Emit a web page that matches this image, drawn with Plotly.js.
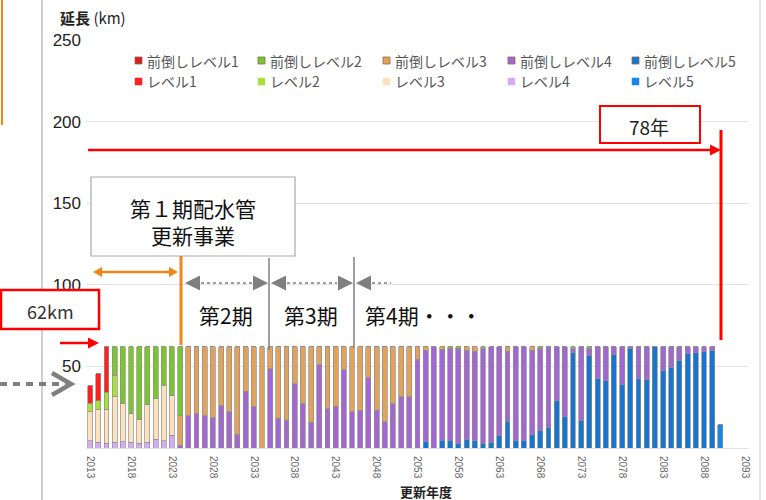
<!DOCTYPE html>
<html>
<head>
<meta charset="utf-8">
<script src="https://cdn.plot.ly/plotly-3.0.1.min.js"></script>
<style>html,body{margin:0;padding:0;background:#fff}</style>
</head>
<body>
<div id="chart" style="width:766px;height:500px"></div>
<script>
// Renewal years 2013 - 2090
const years = [
  2013,2014,2015,2016,2017,2018,2019,2020,2021,2022,
  2023,2024,2025,2026,2027,2028,2029,2030,2031,2032,
  2033,2034,2035,2036,2037,2038,2039,2040,2041,2042,
  2043,2044,2045,2046,2047,2048,2049,2050,2051,2052,
  2053,2054,2055,2056,2057,2058,2059,2060,2061,2062,
  2063,2064,2065,2066,2067,2068,2069,2070,2071,2072,
  2073,2074,2075,2076,2077,2078,2079,2080,2081,2082,
  2083,2084,2085,2086,2087,2088,2089,2090
];

// Length renewed per year (km), by level
const level1 = [10.8,16.7,27.9,0,0,0,0,0,0,0, 0,0,0,0,0,0,0,0,0,0, 0,0,0,0,0,0,0,0,0,0, 0,0,0,0,0,0,0,0,0,0, 0,0,0,0,0,0,0,0,0,0, 0,0,0,0,0,0,0,0,0,0, 0,0,0,0,0,0,0,0,0,0, 0,0,0,0,0,0,0,0];
const level2 = [5.1,5.1,10.6,12.8,0,0,0,0,0,0, 0,0,0,0,0,0,0,0,0,0, 0,0,0,0,0,0,0,0,0,0, 0,0,0,0,0,0,0,0,0,0, 0,0,0,0,0,0,0,0,0,0, 0,0,0,0,0,0,0,0,0,0, 0,0,0,0,0,0,0,0,0,0, 0,0,0,0,0,0,0,0];
const level3 = [17.9,20.3,20.9,28.3,23.4,17.7,14.8,23.2,24.8,33.7, 24.4,0,0,0,0,0,0,0,0,0, 0,0,0,0,0,0,0,0,0,0, 0,0,0,0,0,0,0,0,0,0, 0,0,0,0,0,0,0,0,0,0, 0,0,0,0,0,0,0,0,0,0, 0,0,0,0,0,0,0,0,0,0, 0,0,0,0,0,0,0,0];
const level4 = [4.3,3.5,2.8,3.5,3.9,3.5,2.8,3.5,5.5,4.3, 7.9,0,0,0,0,0,0,0,0,0, 0,0,0,0,0,0,0,0,0,0, 0,0,0,0,0,0,0,0,0,0, 0,0,0,0,0,0,0,0,0,0, 0,0,0,0,0,0,0,0,0,0, 0,0,0,0,0,0,0,0,0,0, 0,0,0,0,0,0,0,0];
const level5 = [0,0,0,0,0,0,0,0,0,0, 0,0,0,0,0,0,0,0,0,0, 0,0,0,0,0,0,0,0,0,0, 0,0,0,0,0,0,0,0,0,0, 0,0,0,0,0,0,0,0,0,0, 0,0,0,0,0,0,0,0,0,0, 0,0,0,0,0,0,0,0,0,0, 0,0,0,0,0,0,0,14.4];

// Brought-forward renewals (km)
const early1 = [0,0,0,0,0,0,0,0,0,0, 0,0,0,0,0,0,0,0,0,0, 0,0,0,0,0,0,0,0,0,0, 0,0,0,0,0,0,0,0,0,0, 0,0,0,0,0,0,0,0,0,0, 0,0,0,0,0,0,0,0,0,0, 0,0,0,0,0,0,0,0,0,0, 0,0,0,0,0,0,0,0];
const early2 = [0,0,0,17.4,34.7,40.8,44.4,35.3,31.7,24.0, 29.7,41.9,0,0,0,0,0,0,0,0, 0,0,0,0,0,0,0,0,0,0, 0,0,0,0,0,0,0,0,0,0, 0,0,0,0,1.0,1.0,0,0,1.0,0, 0,0,0,0,0,1.0,0,0,0,1.0, 0,1.0,0,0,0,0,0,0,0,0, 0,0,0,0,0,0,0,0];
const early3 = [0,0,0,0,0,0,0,0,0,0, 0,18.3,42.3,40.9,42.3,43.5,36.2,39.8,53.5,27.2, 36.8,62.0,13.4,43.9,44.9,22.6,34.8,46.3,11.0,37.8, 36.4,14.0,39.8,38.8,19.1,38.8,45.9,34.8,30.7,30.7, 7.7,2.0,0,1.6,0,0,2.0,2.6,0,0, 0,2.6,0,0,2.0,0,0,0,0,0, 0,0,0,0,0,0,0,0,0,0, 0,0,0,0,0,0,0,0];
const early4 = [0,0,0,0,0,0,0,0,0,0, 0,1.8,19.7,21.1,19.7,18.5,25.8,22.2,8.5,34.8, 25.2,0,48.6,18.1,17.1,39.4,27.2,15.7,51.0,24.2, 25.6,48.0,22.2,23.2,42.9,23.2,16.1,27.2,31.3,31.3, 54.3,56.1,62.0,56.1,56.1,58.2,54.5,55.1,58.2,58.5, 54.1,42.9,57.7,57.1,51.7,50.0,49.6,33.1,42.9,2.7, 44.9,4.3,19.5,20.9,4.7,23.0,1.0,19.5,20.1,0, 14.4,12.4,8.3,4.3,3.7,2.9,2.2,0];
const early5 = [0,0,0,0,0,0,0,0,0,0, 0,0,0,0,0,0,0,0,0,0, 0,0,0,0,0,0,0,0,0,0, 0,0,0,0,0,0,0,0,0,0, 0,3.9,0,4.3,4.9,2.8,5.5,4.3,2.8,3.5, 7.9,16.5,4.3,4.9,8.3,11.0,12.4,28.9,19.1,58.3, 17.1,56.7,42.5,41.1,57.3,39.0,61.0,42.5,41.9,62.0, 47.6,49.6,53.7,57.7,58.3,59.1,59.8,0];

const earlyNames = ['前倒しレベル1','前倒しレベル2','前倒しレベル3','前倒しレベル4','前倒しレベル5'];
const levelNames = ['レベル1','レベル2','レベル3','レベル4','レベル5'];
const earlyColors = ['#dc1c1c','#7cc530','#e2a25c','#a367d2','#1675d0'];
const levelColors = ['#ff2020','#a9e03c','#fde1bc','#d3acf6','#1a88e2'];

// stacking order, bottom first
const stack = [
  {name: levelNames[4], y: level5, c: levelColors[4]},
  {name: levelNames[3], y: level4, c: levelColors[3]},
  {name: levelNames[2], y: level3, c: levelColors[2]},
  {name: levelNames[1], y: level2, c: levelColors[1]},
  {name: levelNames[0], y: level1, c: levelColors[0]},
  {name: earlyNames[4], y: early5, c: earlyColors[4]},
  {name: earlyNames[3], y: early4, c: earlyColors[3]},
  {name: earlyNames[2], y: early3, c: earlyColors[2]},
  {name: earlyNames[1], y: early2, c: earlyColors[1]},
  {name: earlyNames[0], y: early1, c: earlyColors[0]}
];

const traces = stack.map(s => ({
  type: 'bar', x: years, y: s.y, name: s.name, width: 0.6,
  marker: {color: s.c, line: {color: '#8e8e8e', width: 0.7}},
  showlegend: false, hoverinfo: 'x+y+name'
}));

// pixel helpers for the figure frame
const W = 766, H = 500, ML = 86, MR = 17, MT = 40, MB = 52;
const PW = W - ML - MR, PH = H - MT - MB;
const px = x => (x - ML) / PW;
const py = y => 1 - (y - MT) / PH;

function seg(x0, y0, x1, y1, color, width, dash) {
  return {type: 'line', xref: 'paper', yref: 'paper', x0: px(x0), y0: py(y0), x1: px(x1), y1: py(y1),
    line: {color: color, width: width, dash: dash || 'solid'}};
}
function box(x0, y0, x1, y1, color, width, fill) {
  return {type: 'rect', xref: 'paper', yref: 'paper', x0: px(x0), y0: py(y0), x1: px(x1), y1: py(y1),
    line: {color: color, width: width}, fillcolor: fill || 'rgba(0,0,0,0)'};
}
function head(tx, ty, dir, len, hw, color) {
  const bx = tx - dir * len;
  return {type: 'path', xref: 'paper', yref: 'paper',
    path: 'M' + px(tx) + ',' + py(ty) + ' L' + px(bx) + ',' + py(ty - hw) + ' L' + px(bx) + ',' + py(ty + hw) + ' Z',
    fillcolor: color, line: {color: color, width: 0}};
}
function label(x, y, t, size, color, anchor, extra) {
  return Object.assign({xref: 'paper', yref: 'paper', x: px(x), y: py(y), text: t, showarrow: false,
    xanchor: anchor || 'center', yanchor: 'middle',
    font: {family: '"Noto Sans CJK JP", "Noto Sans", sans-serif', size: size, color: color}}, extra || {});
}

const RED = '#ff0000', ORANGE = '#f2851a', GRAY = '#7f7f7f';
const shapes = [];
const annotations = [];

// outer frame lines
shapes.push(seg(42, 0, 42, 500, '#cfcfcf', 2));
shapes.push(seg(760, 0, 760, 500, '#dedede', 1.5));
shapes.push(seg(2, 0, 2, 125, ORANGE, 2));

// legend
const legX = [135, 258, 383, 508, 632];
for (let i = 0; i < 5; i++) {
  shapes.push(box(legX[i], 57, legX[i] + 7, 64, '#8a6a5a', 0.8, earlyColors[i]));
  annotations.push(label(legX[i] + 10, 60.5, earlyNames[i], 14, '#555', 'left'));
  shapes.push(box(legX[i], 78, legX[i] + 7, 85, levelColors[i], 0.5, levelColors[i]));
  annotations.push(label(legX[i] + 10, 81.5, levelNames[i], 14, '#555', 'left'));
}

// 78-year span
shapes.push(box(600, 106, 700, 143, RED, 2, '#ffffff'));
annotations.push(label(649, 126, '78年', 19, '#222'));
shapes.push(seg(88, 150, 712, 150, RED, 2.5));
shapes.push(head(721, 150, 1, 11, 5.5, RED));
shapes.push(seg(721, 130, 721, 340, RED, 3));

// phase 1 project
shapes.push(box(91, 177, 295, 256, '#a9a9a9', 1.2, '#ffffff'));
annotations.push(label(193, 221, '第１期配水管<br>更新事業', 21, '#111'));
shapes.push(seg(100, 272, 171, 272, ORANGE, 2.5));
shapes.push(head(93, 272, -1, 9, 5, ORANGE));
shapes.push(head(178, 272, 1, 9, 5, ORANGE));
shapes.push(seg(181, 256, 181, 345, ORANGE, 3));

// following phases
shapes.push(seg(269, 258, 269, 350, GRAY, 1.5));
shapes.push(seg(354, 257, 354, 348, GRAY, 1.5));
shapes.push(head(185, 283, -1, 15, 7.5, GRAY));
shapes.push(seg(201, 283, 253, 283, GRAY, 1.5, 'dot'));
shapes.push(head(268, 283, 1, 15, 7.5, GRAY));
shapes.push(head(271, 283, -1, 15, 7.5, GRAY));
shapes.push(seg(287, 283, 337, 283, GRAY, 1.5, 'dot'));
shapes.push(head(353, 283, 1, 15, 7.5, GRAY));
shapes.push(head(356, 283, -1, 15, 7.5, GRAY));
shapes.push(seg(372, 283, 391, 283, GRAY, 1.5, 'dot'));
annotations.push(label(226, 315, '第2期', 21, '#111'));
annotations.push(label(311, 315, '第3期', 21, '#111'));
annotations.push(label(363, 315, '第4期・・・', 21, '#111', 'left'));

// 62 km per year
shapes.push(box(1, 290, 99, 329, RED, 2.5, '#ffffff'));
annotations.push(label(50, 311, '62km', 18, '#333'));
shapes.push(seg(60, 343, 90, 343, RED, 2.5));
shapes.push(head(99, 343, 1, 11, 5.5, RED));

// dashed pointer
shapes.push(seg(0, 384, 66, 384, GRAY, 4, '7px,6px'));
shapes.push({type: 'path', xref: 'paper', yref: 'paper',
  path: 'M' + px(52) + ',' + py(373) + ' L' + px(71) + ',' + py(384) + ' L' + px(52) + ',' + py(395),
  line: {color: GRAY, width: 4.5}});

// axis titles
annotations.push(label(58, 18, '<b>延長</b> (km)', 15, '#222', 'left'));
annotations.push(label(426, 491, '<b>更新年度</b>', 13, '#222'));

const layout = {
  width: W, height: H,
  margin: {l: ML, r: MR, t: MT, b: MB, pad: 0},
  paper_bgcolor: '#ffffff', plot_bgcolor: '#ffffff',
  barmode: 'stack',
  showlegend: false,
  font: {family: '"Noto Sans CJK JP", "Noto Sans", sans-serif'},
  xaxis: {
    range: [2012.5, 2093.5], tick0: 2013, dtick: 5, tickangle: 90,
    tickfont: {family: '"Liberation Sans", sans-serif', size: 10, color: '#666'},
    showgrid: false, zeroline: false, showline: true, linecolor: '#e2e2e2', linewidth: 1,
    ticks: '', ticklabelstandoff: 5
  },
  yaxis: {
    range: [0, 250], tickvals: [50, 100, 150, 200, 250],
    tickfont: {family: '"Liberation Sans", sans-serif', size: 17, color: '#222'},
    showgrid: true, gridcolor: '#e4e4e4', gridwidth: 1, zeroline: false, showline: false,
    ticks: '', ticklabelstandoff: 4
  },
  shapes: shapes,
  annotations: annotations
};

Plotly.newPlot('chart', traces, layout, {displayModeBar: false, staticPlot: true});
</script>
</body>
</html>
